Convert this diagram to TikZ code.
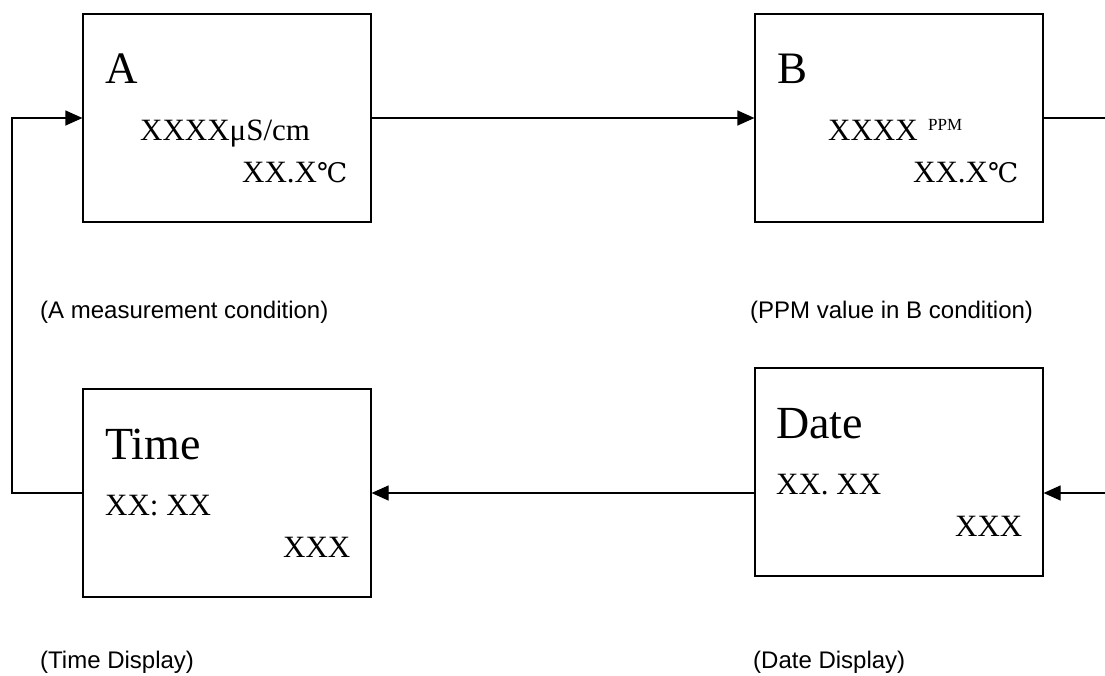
\documentclass[tikz,border=0pt]{standalone}
\usepackage{fontspec}
\setmainfont{Liberation Serif}
\newfontfamily\labelfont{Liberation Sans}
\newfontfamily\symfont{DejaVu Serif}
\usetikzlibrary{arrows.meta}
\newcommand{\degC}{{\symfont\fontsize{27}{27}\selectfont ℃}}
\tikzset{
  panel/.style={draw, line width=1.2pt, minimum width=288pt, minimum height=208pt, inner sep=0pt},
  txt/.style={anchor=base west, inner sep=0pt},
  caption/.style={anchor=base west, inner sep=0pt, font=\labelfont\fontsize{24}{24}\selectfont},
  link/.style={line width=1.2pt},
  flow/.style={line width=1.2pt, -{Triangle[length=17pt,width=15pt]}}
}
\begin{document}
\begin{tikzpicture}[x=1pt,y=-1pt]
\useasboundingbox (0,0) rectangle (1105,675);

% display panels
\node[panel] (A) at (227,118) {};
\node[panel] (B) at (899,118) {};
\node[panel] (T) at (227,493) {};
\node[panel] (D) at (899,472) {};

% panel A
\node[txt, font=\fontsize{45}{45}\selectfont] (At) at (105,83) {A};
\node[txt, font=\fontsize{31}{31}\selectfont] (Av) at (140,140) {XXXXμS/cm};
\node[txt, font=\fontsize{31}{31}\selectfont] (Ac) at (242,182) {XX.X\degC};

% panel B
\node[txt, font=\fontsize{45}{45}\selectfont] (Bt) at (777,83) {B};
\node[txt, font=\fontsize{31}{31}\selectfont] (Bv) at (828,140) {XXXX};
\node[txt, font=\fontsize{17}{17}\selectfont] (Bu) at (928,130) {PPM};
\node[txt, font=\fontsize{31}{31}\selectfont] (Bc) at (913,182) {XX.X\degC};

% time panel
\node[txt, font=\fontsize{46}{46}\selectfont] (Tt) at (105,459) {Time};
\node[txt, font=\fontsize{31}{31}\selectfont] (Tv) at (105,515) {XX: XX};
\node[txt, font=\fontsize{31}{31}\selectfont] (Tw) at (283,557) {XXX};

% date panel
\node[txt, font=\fontsize{46}{46}\selectfont] (Dt) at (776,438) {Date};
\node[txt, font=\fontsize{31}{31}\selectfont] (Dv) at (776,494) {XX. XX};
\node[txt, font=\fontsize{31}{31}\selectfont] (Dw) at (955,536) {XXX};

% captions
\node[caption] (Ac1) at (40,318) {(A measurement condition)};
\node[caption] (Bc1) at (750,318) {(PPM value in B condition)};
\node[caption] (Tc1) at (40,668) {(Time Display)};
\node[caption] (Dc1) at (753,668) {(Date Display)};

% connectors
\coordinate (Lbot) at (12,493);
\coordinate (Ltop) at (12,118);
\coordinate (Rtop) at (1105,118);
\coordinate (Rbot) at (1105,493);

\draw[flow] (A.east) -- (B.west);
\draw[link] (B.east) -- (Rtop);
\draw[flow] (Rbot) -- (Rbot -| D.east);
\draw[flow] (D.west |- T.west) -- (T.east);
\draw[flow] (T.west) -- (Lbot) -- (Ltop) -- (A.west);
\end{tikzpicture}
\end{document}
